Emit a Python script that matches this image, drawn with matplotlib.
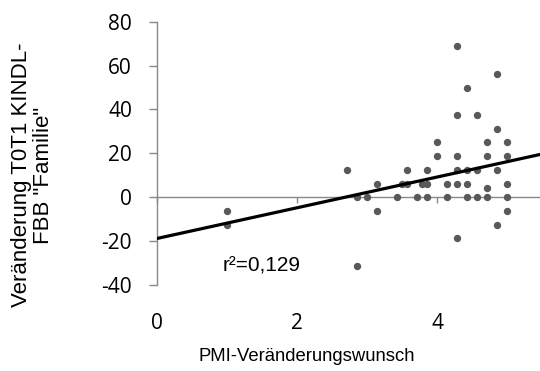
import numpy as np
import matplotlib
matplotlib.use("Agg")
import matplotlib.pyplot as plt

plt.rcParams["axes.unicode_minus"] = False

# PMI-Veränderungswunsch vs. Veränderung T0T1 KINDL-FBB "Familie"
pmi = [1.0, 1.0, 2.71, 2.86, 3.0, 2.86, 3.14, 3.14, 3.43, 3.5, 3.57, 3.57,
       3.71, 3.79, 3.86, 3.86, 3.86, 4.0, 4.0, 4.14, 4.14,
       4.29, 4.29, 4.29, 4.29, 4.29, 4.29,
       4.43, 4.43, 4.43, 4.43, 4.57, 4.57, 4.57,
       4.71, 4.71, 4.71, 4.71, 4.86, 4.86, 4.86, 4.86,
       5.0, 5.0, 5.0, 5.0, 5.0]
familie = [-6.25, -12.5, 12.5, 0, 0, -31.25, 6.25, -6.25, 0, 6.25, 6.25, 12.5,
           0, 6.25, 6.25, 12.5, 0, 25, 18.75, 6.25, 0,
           68.75, 37.5, 18.75, 12.5, 6.25, -18.75,
           50, 12.5, 6.25, 0, 37.5, 12.5, 0,
           25, 18.75, 4.17, 0, 56.25, 31.25, 12.5, -12.5,
           25, 18.75, 6.25, 0, -6.25]

# linear trend as shown in the chart
trend_intercept = -18.8
trend_slope = 7.0
r2_text = "r²=0,129"

axis_grey = "#898989"

fig = plt.figure(figsize=(5.4, 3.71), dpi=100)
ax = fig.add_axes([0.2907, 0.2318, 0.7093, 0.7097])

ax.scatter(pmi, familie, s=28, color="#595959", zorder=3, linewidths=0)

xs = np.array([0, 5.47])
ax.plot(xs, trend_intercept + trend_slope * xs, color="black", lw=2.3, zorder=4)

ax.set_xlim(0, 5.47)
ax.set_ylim(-40, 80)
ax.set_yticks(range(-40, 81, 20))
ax.set_xticks([0, 2, 4])

for s in ["top", "right"]:
    ax.spines[s].set_visible(False)
ax.spines["left"].set_color(axis_grey)
ax.spines["left"].set_linewidth(1.0)
ax.spines["bottom"].set_position(("data", 0))
ax.spines["bottom"].set_color(axis_grey)
ax.spines["bottom"].set_linewidth(1.0)

ax.tick_params(axis="y", direction="out", length=6, width=1.0, color=axis_grey,
               pad=12, labelsize=15)
ax.tick_params(axis="x", direction="out", length=4, width=1.0, color=axis_grey,
               labelbottom=False)
for lab in ax.get_yticklabels():
    lab.set_family("Open Sans")

# x tick labels at the bottom of the plot area (Excel "low" position)
sec = ax.secondary_xaxis(0)
sec.set_xticks([0, 2, 4])
sec.spines["bottom"].set_visible(False)
sec.tick_params(length=0, pad=20, labelsize=15)
for lab in sec.get_xticklabels():
    lab.set_family("Open Sans")

ax.set_xlabel("PMI-Veränderungswunsch", family="Liberation Sans", fontsize=13.3)
ax.xaxis.set_label_coords(0.392, -0.24)
ax.set_ylabel('Veränderung T0T1 KINDL-\nFBB "Familie"', family="Liberation Sans",
              fontsize=16, linespacing=1.05)
ax.yaxis.set_label_coords(-0.27, 0.418)

ax.text(0.94, -31.4, r2_text, family="Liberation Sans", fontsize=15, va="center")

fig.savefig("out.png", dpi=100)
